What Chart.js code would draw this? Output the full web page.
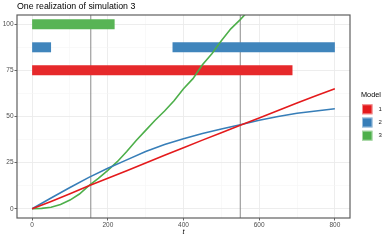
<!DOCTYPE html>
<html>
<head>
<meta charset="utf-8">
<script src="https://cdn.jsdelivr.net/npm/chart.js@4/dist/chart.umd.min.js"></script>
<style>
  body { margin: 0; background: #fff; }
</style>
</head>
<body>
<canvas id="simChart" width="389" height="240"></canvas>
<script>
const chartTitle = 'One realization of simulation 3';
const legendTitle = 'Model';
const models = ['1', '2', '3'];
const modelColors = ['#E41A1C', '#377EB8', '#4DAF4A'];
const segColors = ['#E6292B', '#4085BC', '#58B455'];

// model 1 and 2 read every 50 time units
const tCoarse = [0, 50, 100, 150, 200, 250, 300, 350, 400, 450, 500, 550, 600, 650, 700, 750, 800];
const model1Values = [0, 4, 8.2, 12.5, 16.5, 20.6, 24.8, 29, 33.1, 37.2, 41.2, 45.2, 49.2, 53.3, 57.3, 61.2, 65];
const model2Values = [0, 5.8, 11.5, 17, 22, 26.5, 31, 34.8, 38, 40.8, 43.2, 45.5, 48, 50, 51.8, 53, 54.2];

// model 3 read every 25 time units (leaves the panel at the top)
const tFine = [0, 25, 50, 75, 100, 125, 150, 175, 200, 225, 250, 275, 300, 325, 350, 375, 400, 425, 450, 475, 500, 525, 550, 575];
const model3Values = [0, 0.2, 0.8, 2.3, 4.7, 8, 12.5, 16.5, 20.8, 25.5, 31, 37, 42.5, 48, 53, 58.5, 65, 70.5, 78, 84, 91, 97.5, 102.5, 108];

// thick segments: which model is selected over time
const segModel = [3, 2, 2, 1];
const segLevel = [100, 87.5, 87.5, 75];
const segStart = [0, 0, 371, 0];
const segEnd = [218, 50, 800, 688];

const markerTimes = [155, 550];

const xMajorTicks = [0, 200, 400, 600, 800];
const xMinorTicks = [100, 300, 500, 700];
const yMajorTicks = [0, 25, 50, 75, 100];
const yMinorTicks = [12.5, 37.5, 62.5, 87.5];

const tickFont = { family: '"Liberation Sans", Arial, sans-serif', size: 6.5 };

function toPoints(xs, ys) {
    return xs.map((x, i) => ({ x: x, y: ys[i] }));
}

// order: lower numbers are drawn on top
const curveSets = [model1Values, model2Values, model3Values].map((vals, i) => ({
    label: 'Model ' + models[i],
    data: toPoints(i === 2 ? tFine : tCoarse, vals),
    borderColor: modelColors[i],
    borderWidth: 1.6,
    pointRadius: 0,
    showLine: true,
    tension: 0,
    clip: 0,
    order: 0
}));

const segSets = segModel.map((m, i) => ({
    label: 'seg' + i,
    data: [{ x: segStart[i], y: segLevel[i] }, { x: segEnd[i], y: segLevel[i] }],
    borderColor: segColors[m - 1],
    borderWidth: 10,
    borderCapStyle: 'butt',
    pointRadius: 0,
    showLine: true,
    order: 1
}));

const markerSets = markerTimes.map(t => ({
    label: 'marker',
    data: [{ x: t, y: -5 }, { x: t, y: 105 }],
    borderColor: '#8a8a8a',
    borderWidth: 1,
    pointRadius: 0,
    showLine: true,
    clip: 0,
    order: 2
}));

function gridStyle(majors) {
    return {
        color: c => (c.tick && majors.includes(c.tick.value)) ? '#ebebeb' : '#f5f5f5',
        lineWidth: c => (c.tick && majors.includes(c.tick.value)) ? 0.9 : 0.6,
        tickColor: c => (c.tick && majors.includes(c.tick.value)) ? '#555' : 'rgba(0,0,0,0)',
        tickLength: 2.5
    };
}

const overlay = {
    id: 'overlay',
    afterDraw(chart) {
        const ctx = chart.ctx;
        const a = chart.chartArea;
        ctx.save();
        ctx.strokeStyle = '#5f5f5f';
        ctx.lineWidth = 1.2;
        ctx.strokeRect(a.left, a.top, a.right - a.left, a.bottom - a.top);

        ctx.fillStyle = '#000';
        ctx.textBaseline = 'middle';
        ctx.font = '8.8px "Liberation Sans", Arial, sans-serif';
        ctx.fillText(chartTitle, a.left, 7);

        ctx.textAlign = 'center';
        ctx.font = 'italic 7.3px "Liberation Sans", Arial, sans-serif';
        ctx.fillText('t', chart.scales.x.getPixelForValue(400), 232);

        // legend
        ctx.textAlign = 'left';
        ctx.font = '7.3px "Liberation Sans", Arial, sans-serif';
        ctx.fillText(legendTitle, 361, 94.5);
        ctx.font = '6px "Liberation Sans", Arial, sans-serif';
        models.forEach((m, i) => {
            const y = 104.3 + i * 13.2;
            ctx.fillStyle = modelColors[i];
            ctx.fillRect(362, y, 10.5, 10);
            ctx.strokeStyle = 'rgba(255,255,255,0.5)';
            ctx.lineWidth = 1;
            ctx.strokeRect(362.5, y + 0.5, 9.5, 9);
            ctx.fillStyle = '#1a1a1a';
            ctx.fillText(m, 378.5, y + 5);
        });
        ctx.restore();
    }
};

new Chart(document.getElementById('simChart').getContext('2d'), {
    type: 'scatter',
    data: { datasets: [...curveSets, ...segSets, ...markerSets] },
    plugins: [overlay],
    options: {
        responsive: false,
        animation: false,
        layout: { padding: { left: 0, top: 15, right: 39, bottom: 0 } },
        scales: {
            x: {
                type: 'linear',
                min: -40,
                max: 840,
                afterBuildTicks: s => { s.ticks = [...xMajorTicks, ...xMinorTicks].sort((p, q) => p - q).map(v => ({ value: v })); },
                afterFit: s => { s.height = 22; },
                ticks: {
                    autoSkip: false,
                    maxRotation: 0,
                    padding: 1,
                    color: '#4d4d4d',
                    font: tickFont,
                    callback: v => xMajorTicks.includes(v) ? String(v) : ''
                },
                grid: gridStyle(xMajorTicks),
                border: { display: false }
            },
            y: {
                type: 'linear',
                min: -5,
                max: 105,
                afterBuildTicks: s => { s.ticks = [...yMajorTicks, ...yMinorTicks].sort((p, q) => p - q).map(v => ({ value: v })); },
                afterFit: s => { s.width = 17; },
                ticks: {
                    autoSkip: false,
                    padding: 1,
                    color: '#4d4d4d',
                    font: tickFont,
                    callback: v => yMajorTicks.includes(v) ? String(v) : ''
                },
                grid: gridStyle(yMajorTicks),
                border: { display: false }
            }
        },
        plugins: {
            legend: { display: false },
            tooltip: { enabled: false },
            title: { display: false }
        }
    }
});
</script>
</body>
</html>
